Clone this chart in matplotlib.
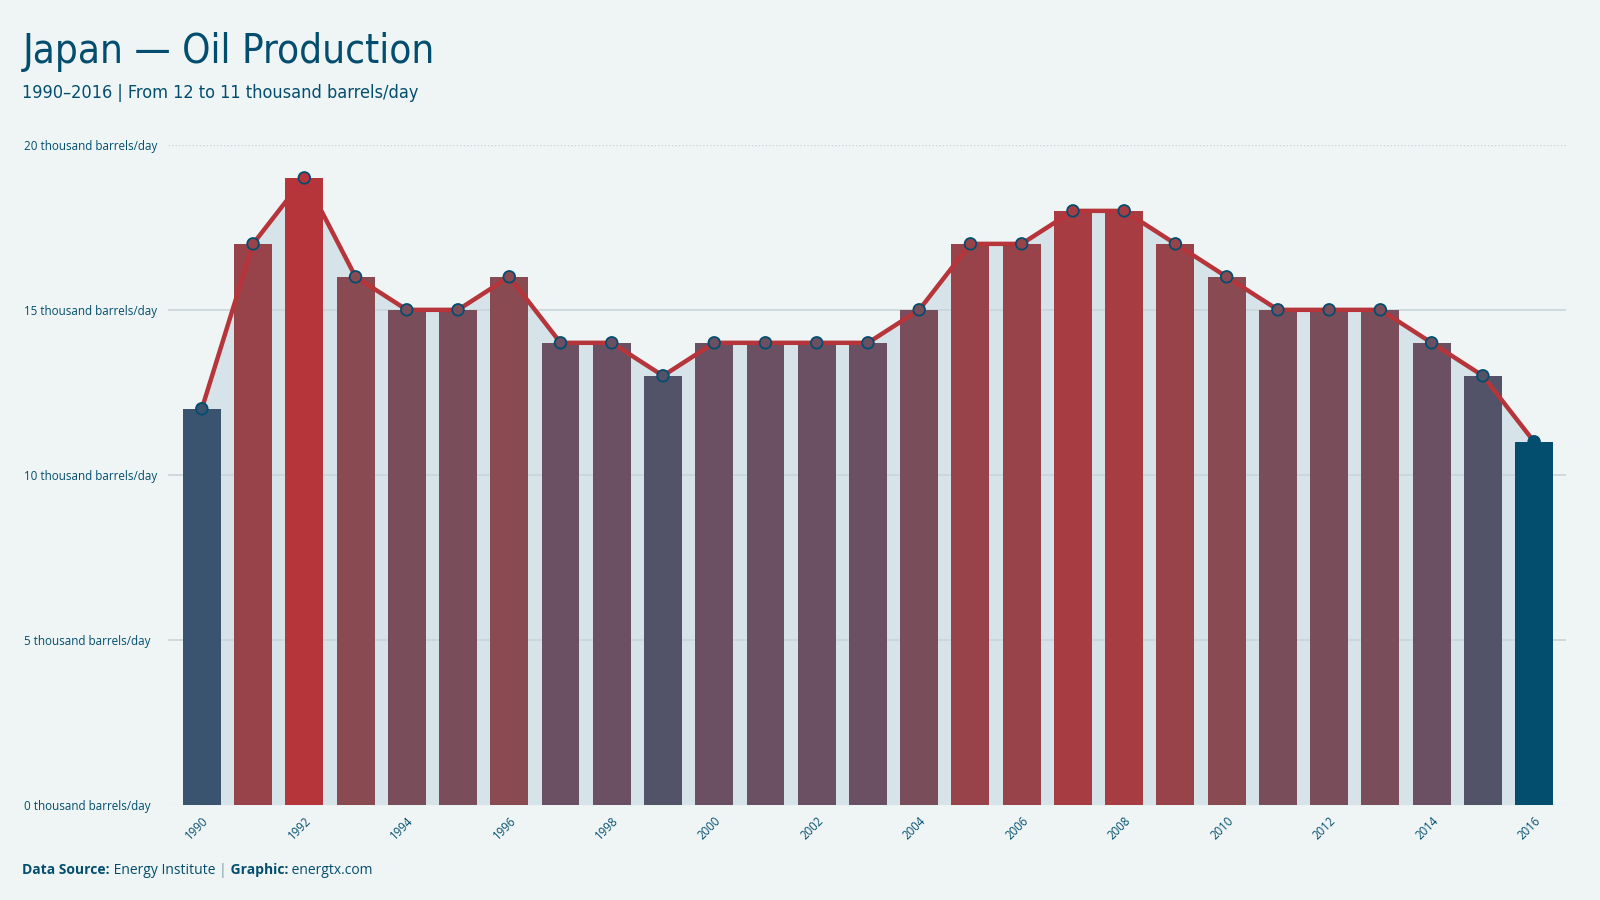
import matplotlib
import numpy as np
import matplotlib.pyplot as plt
from matplotlib.colors import LinearSegmentedColormap
matplotlib.use('Agg')

years = list(range(1990, 2017))
production = [12, 17, 19, 16, 15, 15, 16, 14, 14, 13, 14, 14, 14, 14, 15,
              17, 17, 18, 18, 17, 16, 15, 15, 15, 14, 13, 11]
ytick_values = [0, 5, 10, 15, 20]
ytick_labels = [f"{v} thousand barrels/day" for v in ytick_values]

BG = '#eff5f5'
NAVY = '#034e6e'
RED = '#b5353a'
FILL = '#d6e3e8'
GRID = '#c8d5da'

cmap = LinearSegmentedColormap.from_list(
    'oil', [(0.0, '#3a5470'), (2 / 7, '#6b4f62'), (4 / 7, '#8a4a52'), (1.0, RED)])


def bar_colors(values):
    cols = []
    for i, v in enumerate(values):
        if i == len(values) - 1:
            cols.append(NAVY)  # latest year highlighted
        else:
            cols.append(cmap((v - 12) / 7))
    return cols


def main():
    title_font = ['DejaVu Sans']
    body_font = ['Open Sans', 'DejaVu Sans']

    fig = plt.figure(figsize=(16, 9), dpi=100, facecolor=BG)
    ax = fig.add_axes([0.105, 0.106, 0.874, 0.733], facecolor=BG)

    x = np.arange(len(years))
    colors = bar_colors(production)

    ax.fill_between(x, production, 0, color=FILL, lw=0, zorder=1)
    ax.bar(x, production, width=0.74, color=colors, zorder=2)
    ax.plot(x, production, color=RED, lw=3.2, zorder=3, solid_capstyle='round')
    ax.scatter(x, production, s=70, c=colors, edgecolors=NAVY, linewidths=1.3, zorder=4)

    ax.set_xlim(-0.66, len(years) - 1 + 0.63)
    ax.set_ylim(0, 20)

    for v in ytick_values:
        if v in (0, 20):
            ax.axhline(v, color=GRID, lw=1, ls=(0, (1, 1.5)), zorder=0.5)
        else:
            ax.axhline(v, color=GRID, lw=1.2, zorder=1.5)

    ax.set_yticks(ytick_values)
    ax.set_yticklabels(ytick_labels, family=body_font, fontsize=8.4, color=NAVY, ha='left')
    ax.tick_params(axis='y', length=0, pad=104)

    ax.set_xticks(x[::2])
    ax.set_xticklabels([str(y) for y in years[::2]], rotation=45, ha='right',
                       rotation_mode='anchor', family=body_font, fontsize=8.3, color=NAVY)
    ax.tick_params(axis='x', length=0, pad=7)

    for s in ax.spines.values():
        s.set_visible(False)

    fig.text(0.014, 0.942, "Japan — Oil Production", family=title_font, fontstretch='condensed',
             fontsize=29, color=NAVY, va='center', ha='left')
    fig.text(0.014, 0.897, "1990–2016 | From 12 to 11 thousand barrels/day", family=title_font,
             fontstretch='condensed', fontsize=13, color=NAVY, va='center', ha='left')

    # footer, pieces placed one after the other
    renderer = fig.canvas.get_renderer()
    pieces = [("Data Source:", 'bold', NAVY), (" Energy Institute ", 'normal', NAVY),
              ("|", 'normal', '#7f9aa8'), (" Graphic:", 'bold', NAVY), (" energtx.com", 'normal', NAVY)]
    xpos = 0.014
    for txt, weight, col in pieces:
        t = fig.text(xpos, 0.033, txt, family=body_font, fontsize=10, fontweight=weight,
                     color=col, va='center', ha='left')
        bb = t.get_window_extent(renderer)
        xpos = bb.x1 / fig.bbox.width

    fig.savefig('out.png', dpi=100, facecolor=BG)


main()
